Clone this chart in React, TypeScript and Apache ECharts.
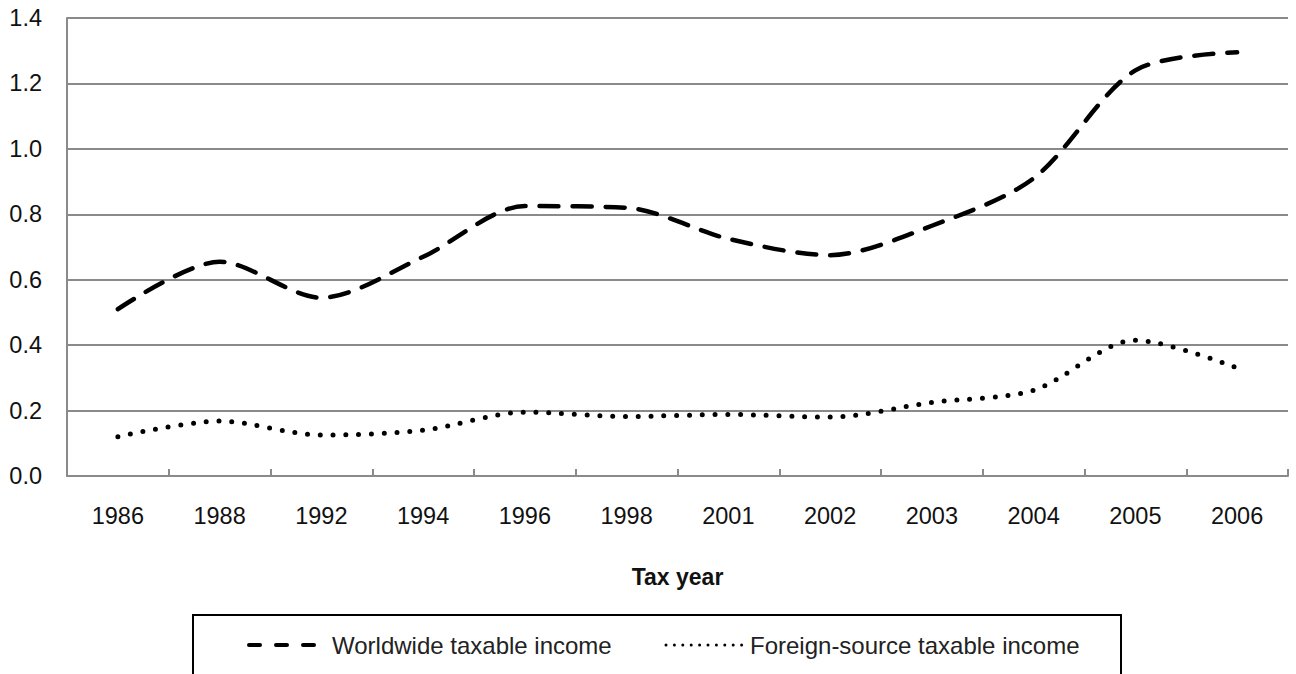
import React, { useEffect, useRef } from "react";
import * as echarts from "echarts";

const years = ["1986", "1988", "1992", "1994", "1996", "1998", "2001", "2002", "2003", "2004", "2005", "2006"];
const worldwide = [0.51, 0.655, 0.545, 0.67, 0.825, 0.82, 0.725, 0.675, 0.765, 0.91, 1.24, 1.295];
const foreignSource = [0.12, 0.168, 0.125, 0.14, 0.195, 0.182, 0.188, 0.18, 0.225, 0.262, 0.415, 0.33];
const seriesNames = ["Worldwide taxable income", "Foreign-source taxable income"];

const FONT = "'Liberation Sans', Arial, sans-serif";
const AXIS_GREY = "#8a8a8a";

export default function App() {
  const ref = useRef<HTMLDivElement>(null);

  useEffect(() => {
    document.body.style.margin = "0";
    const chart = echarts.init(ref.current!, null, { renderer: "svg" });
    chart.setOption({
      animation: false,
      backgroundColor: "#ffffff",
      textStyle: { fontFamily: FONT },
      grid: { left: 67, right: 8, top: 18, bottom: 198, containLabel: false },
      xAxis: {
        type: "category",
        data: years,
        boundaryGap: true,
        name: "Tax year",
        nameLocation: "middle",
        nameGap: 89,
        nameTextStyle: { fontFamily: FONT, fontSize: 23, fontWeight: "bold", color: "#111", verticalAlign: "top" },
        axisLine: { show: true, lineStyle: { color: AXIS_GREY, width: 2 } },
        axisTick: { show: true, inside: true, length: 7, lineStyle: { color: AXIS_GREY, width: 2 } },
        axisLabel: { fontFamily: FONT, fontSize: 23.5, color: "#111", margin: 28 },
        splitLine: { show: false },
      },
      yAxis: {
        type: "value",
        min: 0,
        max: 1.4,
        interval: 0.2,
        axisLine: { show: true, lineStyle: { color: AXIS_GREY, width: 2 } },
        axisTick: { show: false },
        axisLabel: { fontFamily: FONT, fontSize: 23.5, color: "#111", margin: 25, formatter: (v: number) => v.toFixed(1) },
        splitLine: { show: true, lineStyle: { color: AXIS_GREY, width: 2 } },
      },
      legend: { show: false },
      graphic: [
        {
          type: "rect",
          shape: { x: 193, y: 615, width: 928, height: 80 },
          style: { fill: "none", stroke: "#000", lineWidth: 2 },
          silent: true,
        },
        {
          type: "line",
          shape: { x1: 249, y1: 645, x2: 317, y2: 645 },
          style: { stroke: "#000", lineWidth: 4, lineDash: [11, 16], lineCap: "round" },
          silent: true,
        },
        {
          type: "text",
          x: 332,
          y: 645,
          style: { text: seriesNames[0], font: `24px ${FONT}`, fill: "#222", textVerticalAlign: "middle", verticalAlign: "middle" },
          silent: true,
        },
        {
          type: "line",
          shape: { x1: 666, y1: 645, x2: 742, y2: 645 },
          style: { stroke: "#000", lineWidth: 3, lineDash: [0, 8.4], lineCap: "round" },
          silent: true,
        },
        {
          type: "text",
          x: 750,
          y: 645,
          style: { text: seriesNames[1], font: `24px ${FONT}`, fill: "#222", textVerticalAlign: "middle", verticalAlign: "middle" },
          silent: true,
        },
      ],
      series: [
        {
          name: seriesNames[0],
          type: "line",
          data: worldwide,
          smooth: 0.3,
          symbol: "none",
          lineStyle: { color: "#000", width: 4.5, type: [19, 14], cap: "round" },
          itemStyle: { color: "#000" },
        },
        {
          name: seriesNames[1],
          type: "line",
          data: foreignSource,
          smooth: 0.3,
          symbol: "none",
          lineStyle: { color: "#000", width: 5, type: [0, 12.8], cap: "round" },
          itemStyle: { color: "#000" },
        },
      ],
    });
    return () => chart.dispose();
  }, []);

  return <div ref={ref} style={{ position: "fixed", left: 0, top: 0, width: 1296, height: 674 }} />;
}
